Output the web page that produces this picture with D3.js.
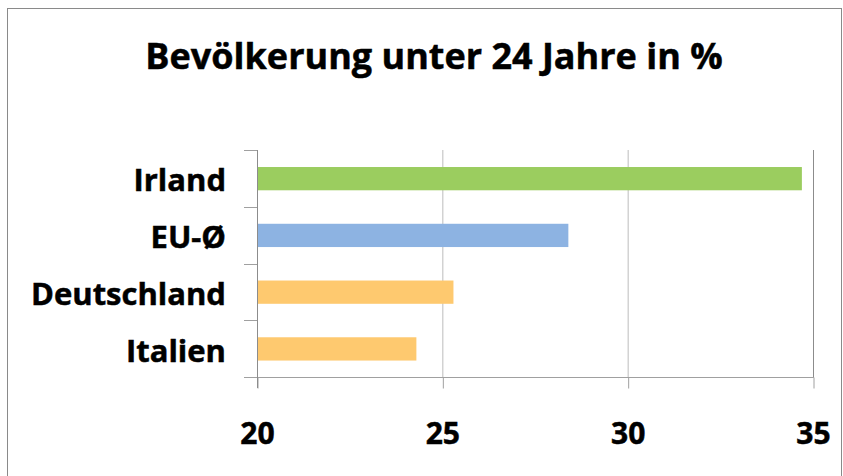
<!DOCTYPE html>
<html>
  <head>
    <meta charset="UTF-8" />
    <style>
      body { margin: 0; background: #fff; }
      text { font-family: "Open Sans", sans-serif; font-weight: bold; fill: #000; stroke: #000; stroke-width: 0.5px; }
    </style>
  </head>
  <body>
    <svg></svg>
    <script src="https://d3js.org/d3.v7.min.js"></script>
    <script>
      let width = 843,
        height = 476;

      // data, top to bottom
      let countries = ["Irland", "EU-Ø", "Deutschland", "Italien"];
      let values = [34.7, 28.4, 25.3, 24.3];
      let colors = ["#9bcd5f", "#8db3e2", "#fec96f", "#fec96f"];
      let xTicks = [20, 25, 30, 35];
      let title = "Bevölkerung unter 24 Jahre in %";

      let svg = d3.select("svg").attr("width", width).attr("height", height);

      // outer chart border
      svg.append("rect")
        .attr("x", 7.5).attr("y", 8.5)
        .attr("width", 834).attr("height", 490)
        .attr("fill", "none").attr("stroke", "#8a8a8a");

      let x = d3.scaleLinear().domain([20, 35]).range([257, 813]);
      let y = d3.scaleBand().domain(countries).range([150, 377]);

      // grid lines
      svg.append("g").selectAll("line")
        .data(xTicks.slice(1))
        .join("line")
        .attr("x1", d => x(d) + 0.5).attr("x2", d => x(d) + 0.5)
        .attr("y1", 150).attr("y2", 377)
        .attr("stroke", d => d == 35 ? "#8c8c8c" : "#bdbdbd");

      // bars
      svg.append("g").selectAll("rect")
        .data(countries)
        .join("rect")
        .attr("x", x(20))
        .attr("y", d => y(d) + y.bandwidth() * 0.3)
        .attr("width", (d, i) => x(values[i]) - x(20))
        .attr("height", y.bandwidth() * 0.41)
        .attr("fill", (d, i) => colors[i]);

      // x axis
      let xAxis = svg.append("g")
        .attr("transform", "translate(0,377.5)")
        .call(d3.axisBottom(x).tickValues(xTicks).tickSize(11).tickPadding(55));
      xAxis.select(".domain").remove();
      xAxis.append("line")
        .attr("x1", 244).attr("x2", x(35) + 1)
        .attr("stroke", "#a0a0a0");
      xAxis.selectAll(".tick line").attr("stroke", "#a0a0a0").attr("transform", "translate(0.5,0)");
      xAxis.selectAll(".tick text")
        .attr("font-size", 30).attr("dy", 0).attr("fill", "#000")
        .attr("font-family", null);

      // y axis
      let bounds = countries.map(c => y(c)).concat([377]);
      let yAxis = svg.append("g");
      yAxis.append("line")
        .attr("x1", x(20) + 0.5).attr("x2", x(20) + 0.5)
        .attr("y1", 150).attr("y2", 388)
        .attr("stroke", "#8c8c8c");
      yAxis.selectAll(".cat-tick")
        .data(bounds)
        .join("line")
        .attr("x1", 244).attr("x2", x(20))
        .attr("y1", d => Math.round(d) + 0.5).attr("y2", d => Math.round(d) + 0.5)
        .attr("stroke", "#a0a0a0");
      yAxis.selectAll("text")
        .data(countries)
        .join("text")
        .attr("x", 226)
        .attr("y", d => y(d) + y.bandwidth() / 2 + 13)
        .attr("text-anchor", "end")
        .attr("font-size", 31)
        .text(d => d);

      svg.append("text")
        .attr("x", 434)
        .attr("y", 69)
        .attr("text-anchor", "middle")
        .attr("font-size", 36)
        .text(title);
    </script>
  </body>
</html>
